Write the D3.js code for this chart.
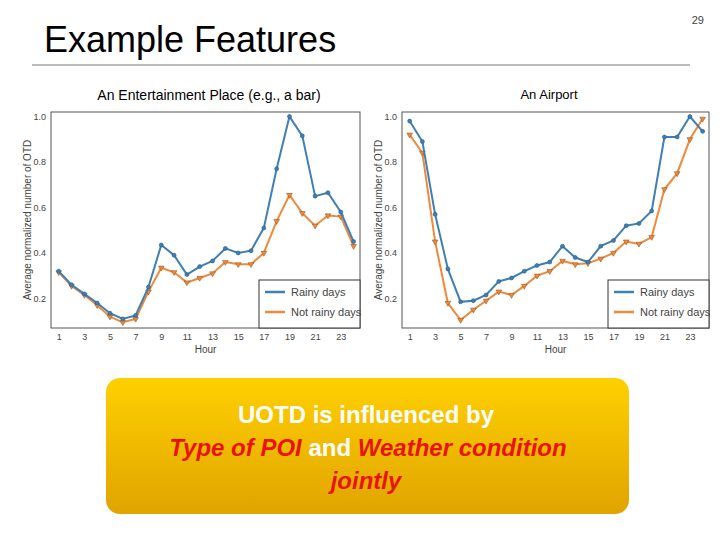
<!DOCTYPE html>
<html><head><meta charset="utf-8">
<script src="https://cdn.jsdelivr.net/npm/d3@7"></script>
<style>body{margin:0;background:#fff}</style>
</head><body>
<script>
'use strict';
const hours = d3.range(1, 25);
const xTicks = [1, 3, 5, 7, 9, 11, 13, 15, 17, 19, 21, 23];
const yTicks = [0.2, 0.4, 0.6, 0.8, 1.0];
const barRainy = [0.32, 0.26, 0.22, 0.18, 0.135, 0.11, 0.125, 0.25, 0.435, 0.39, 0.305, 0.34, 0.365, 0.42, 0.40, 0.41, 0.51, 0.77, 1.0, 0.915, 0.65, 0.665, 0.58, 0.45];
const barDry = [0.315, 0.255, 0.215, 0.17, 0.12, 0.095, 0.11, 0.23, 0.335, 0.315, 0.27, 0.29, 0.31, 0.36, 0.35, 0.35, 0.40, 0.54, 0.655, 0.575, 0.52, 0.565, 0.56, 0.43];
const airRainy = [0.98, 0.89, 0.57, 0.33, 0.185, 0.19, 0.215, 0.275, 0.29, 0.32, 0.345, 0.36, 0.43, 0.38, 0.36, 0.43, 0.455, 0.52, 0.53, 0.585, 0.91, 0.91, 1.0, 0.935];
const airDry = [0.92, 0.84, 0.45, 0.18, 0.105, 0.15, 0.19, 0.23, 0.215, 0.255, 0.30, 0.32, 0.365, 0.35, 0.355, 0.375, 0.40, 0.45, 0.44, 0.47, 0.68, 0.75, 0.90, 0.99];
const seriesNames = ['Rainy days', 'Not rainy days'];
const colors = ['#3f7fb5', '#ee8a3a'];

const svg = d3.select('body').append('svg').attr('width', 720).attr('height', 540)
    .style('font-family', 'Arial, "Liberation Sans", sans-serif');

svg.append('text').attr('x', 44).attr('y', 52).attr('font-size', 36).text('Example Features');
svg.append('line').attr('x1', 32).attr('x2', 690).attr('y1', 65).attr('y2', 65).attr('stroke', '#777');
svg.append('text').attr('x', 704).attr('y', 24).attr('font-size', 11).attr('text-anchor', 'end').attr('fill', '#444').text('29');
svg.append('text').attr('x', 209).attr('y', 100).attr('font-size', 14).attr('text-anchor', 'middle').text('An Entertainment Place (e.g., a bar)');
svg.append('text').attr('x', 549).attr('y', 99).attr('font-size', 13).attr('text-anchor', 'middle').text('An Airport');

function chart(box, rainy, dry) {
    const x = d3.scaleLinear().domain([0.4, 24.5]).range([box.l, box.r]);
    const y = d3.scaleLinear().domain([0.07, 1.02]).range([box.b, box.t]);
    const g = svg.append('g');
    g.append('rect').attr('x', box.l).attr('y', box.t).attr('width', box.r - box.l).attr('height', box.b - box.t)
        .attr('fill', 'none').attr('stroke', '#555');
    const xa = g.append('g').attr('transform', `translate(0,${box.b})`)
        .call(d3.axisBottom(x).tickValues(xTicks).tickSize(0).tickPadding(6));
    const ya = g.append('g').attr('transform', `translate(${box.l},0)`)
        .call(d3.axisLeft(y).tickValues(yTicks).tickFormat(d3.format('.1f')).tickSize(0).tickPadding(5));
    [xa, ya].forEach(a => { a.select('.domain').remove(); a.selectAll('text').attr('font-size', 9).attr('fill', '#444'); });
    g.append('text').attr('x', (box.l + box.r) / 2).attr('y', box.b + 25).attr('text-anchor', 'middle')
        .attr('font-size', 10).attr('fill', '#444').text('Hour');
    g.append('text').attr('transform', `translate(${box.l - 20},${(box.t + box.b) / 2}) rotate(-90)`)
        .attr('text-anchor', 'middle').attr('font-size', 10).attr('fill', '#444').text('Average normalized number of OTD');
    const line = d3.line().x((d, i) => x(hours[i])).y(d => y(d));
    [dry, rainy].forEach((s, k) => {
        const c = colors[1 - k];
        g.append('path').datum(s).attr('d', line).attr('fill', 'none').attr('stroke', c).attr('stroke-width', 2);
        if (k === 1) {
            g.selectAll(null).data(s).join('circle').attr('cx', (d, i) => x(hours[i])).attr('cy', d => y(d))
                .attr('r', 2).attr('fill', c).attr('stroke', '#2a5a80').attr('stroke-width', 0.6);
        } else {
            g.selectAll(null).data(s).join('path').attr('d', d3.symbol(d3.symbolTriangle, 14))
                .attr('transform', (d, i) => `translate(${x(hours[i])},${y(d)}) rotate(180)`)
                .attr('fill', c).attr('stroke', '#8a4a1a').attr('stroke-width', 0.5);
        }
    });
    const lg = g.append('g').attr('transform', `translate(${box.lx},${box.b - 48})`);
    lg.append('rect').attr('width', box.r - box.lx).attr('height', 48).attr('fill', '#fff').attr('stroke', '#333');
    seriesNames.forEach((n, i) => {
        const yy = 12 + i * 20;
        lg.append('line').attr('x1', 6).attr('x2', 26).attr('y1', yy).attr('y2', yy).attr('stroke', colors[i]).attr('stroke-width', 2.5);
        lg.append('text').attr('x', 32).attr('y', yy + 4).attr('font-size', 11).attr('fill', '#444').text(n);
    });
}
chart({l: 51, r: 360, t: 112, b: 328, lx: 259}, barRainy, barDry);
chart({l: 402, r: 709, t: 112, b: 328, lx: 608}, airRainy, airDry);

const defs = svg.append('defs');
const gr = defs.append('linearGradient').attr('id', 'gold').attr('x1', 0).attr('x2', 0).attr('y1', 0).attr('y2', 1);
gr.append('stop').attr('offset', 0).attr('stop-color', '#ffd000');
gr.append('stop').attr('offset', 1).attr('stop-color', '#e0a400');
svg.append('rect').attr('x', 106).attr('y', 378).attr('width', 523).attr('height', 136).attr('rx', 14)
    .attr('fill', 'url(#gold)');
svg.append('text').attr('x', 366).attr('y', 423).attr('text-anchor', 'middle').attr('font-size', 24)
    .attr('font-weight', 'bold').attr('fill', '#fff').text('UOTD is influenced by');
const t2 = svg.append('text').attr('x', 368).attr('y', 456).attr('text-anchor', 'middle').attr('font-size', 24)
    .attr('font-weight', 'bold');
t2.append('tspan').attr('fill', '#e8140a').attr('font-style', 'italic').text('Type of POI ');
t2.append('tspan').attr('fill', '#fff').text('and ');
t2.append('tspan').attr('fill', '#e8140a').attr('font-style', 'italic').text('Weather condition');
svg.append('text').attr('x', 366).attr('y', 489).attr('text-anchor', 'middle').attr('font-size', 24)
    .attr('font-weight', 'bold').attr('font-style', 'italic').attr('fill', '#e8140a').text('jointly');
</script>
</body></html>
